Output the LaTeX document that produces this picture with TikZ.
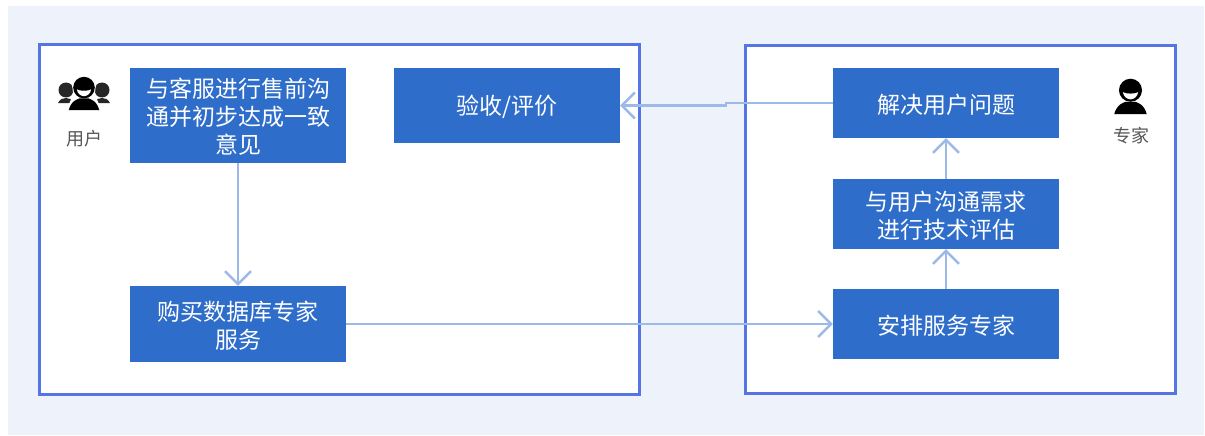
\documentclass[tikz,border=0pt]{standalone}
\usepackage{fontspec}
\setmainfont{Noto Sans CJK SC}
\usetikzlibrary{arrows.meta,positioning}
\definecolor{pagebg}{HTML}{EEF2FB}
\definecolor{panelline}{HTML}{5575E4}
\definecolor{boxfill}{HTML}{2E6DC9}
\definecolor{linkcol}{HTML}{9DB9E8}
\definecolor{labelcol}{HTML}{555555}
\tikzset{
  x=1pt,y=-1pt,
  panel/.style={draw=panelline,line width=2.8pt,fill=white},
  stepbox/.style={fill=boxfill,text=white,font=\fontsize{23}{28}\selectfont,align=center,inner sep=0pt,minimum height=#1},
  stepbox/.default=70pt,
  link/.style={draw=linkcol,line width=2.6pt,-{Straight Barb[length=13pt,width=26pt,line width=2.4pt]}},
  iconlabel/.style={text=labelcol,font=\fontsize{18}{20}\selectfont,inner sep=0pt},
}
\newcommand{\lowered}[1]{\raisebox{-1.5pt}[\height][\depth]{#1}}
\newcommand{\personicon}[3]{%
  \begin{scope}[shift={(#1,#2)},scale=#3]
    \fill[black] (-17,19) .. controls (-14,8) and (-7,7) .. (-5,6) -- (5,6) .. controls (7,7) and (14,8) .. (17,19) -- cycle;
    \fill[black] (0,-6) circle[radius=12];
    \fill[white] (-8,-4) .. controls (-5,-2) and (5,-2) .. (8,-4) .. controls (6,6) and (-6,6) .. (-8,-4) -- cycle;
  \end{scope}}
\newcommand{\sideperson}[2]{%
  \fill[black!85] (#1,#2) circle[radius=7.5];
  \fill[black!85] (#1-8,#2+13) .. controls (#1-6,#2+9) and (#1-3,#2+8) .. (#1,#2+8) .. controls (#1+3,#2+8) and (#1+6,#2+9) .. (#1+8,#2+13) -- cycle;}
\begin{document}
\begin{tikzpicture}
\useasboundingbox (0,0) rectangle (1205,436);
\fill[white] (0,0) rectangle (1205,436);
\fill[pagebg] (8,6) rectangle (1204,435);
\node[panel,minimum width=600pt,minimum height=350pt,inner sep=0pt] (userpanel) at (339.5,219.5) {};
\node[panel,minimum width=430pt,minimum height=348pt,inner sep=0pt] (expertpanel) at (960.5,219.5) {};
\node[stepbox=95pt,minimum width=216pt] (presale) at (238,115.5) {\lowered{与客服进行售前沟}\\\lowered{通并初步达成一致}\\\lowered{意见}};
\node[stepbox=75pt,minimum width=226pt] (accept) at (507,105.5) {\lowered{验收/评价}};
\node[stepbox=76pt,minimum width=216pt] (buy) at (238,324) {\lowered{购买数据库专家}\\\lowered{服务}};
\node[stepbox=70pt,minimum width=226pt] (solve) at (946,103) {\lowered{解决用户问题}};
\node[stepbox=70pt,minimum width=226pt] (assess) at (946,214) {\lowered{与用户沟通需求}\\\lowered{进行技术评估}};
\node[stepbox=70pt,minimum width=226pt] (arrange) at (946,324) {\lowered{安排服务专家}};
% icons
\sideperson{66}{90}
\sideperson{102}{90}
\begin{scope}[shift={(84,92)},scale=0.87]
  \fill[white] (-20,23) .. controls (-17,8) and (-10,6) .. (-14,-8) -- (0,-21) -- (14,-8) .. controls (10,6) and (17,8) .. (20,23) -- cycle;
\end{scope}
\personicon{84}{93}{0.9}
\personicon{1130.5}{96}{0.96}
\node[iconlabel] (userlabel) at (84,139) {用户};
\node[iconlabel] (expertlabel) at (1131,136) {专家};
% connectors
\coordinate (jogright) at (726,103);
\coordinate (jogleft) at (726,105.5);
\draw[link] (presale.south) -- (buy.north);
\draw[link] (solve.west) -- (jogright) -- (jogleft) -- (accept.east);
\draw[link] (buy.east) -- (arrange.west);
\draw[link] (arrange.north) -- (assess.south);
\draw[link] (assess.north) -- (solve.south);
\end{tikzpicture}
\end{document}
